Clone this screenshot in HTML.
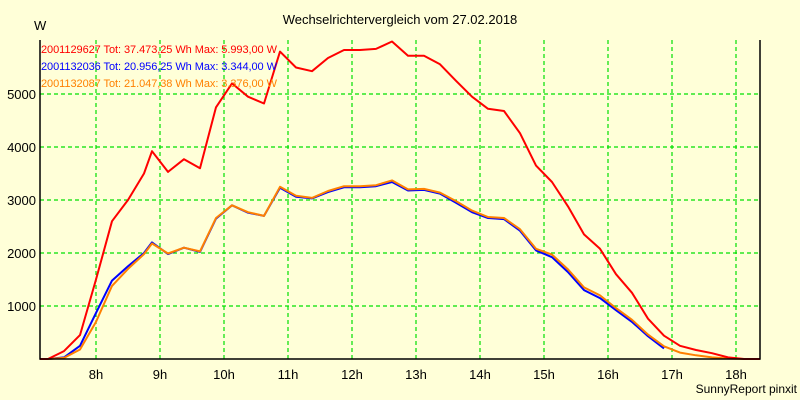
<!DOCTYPE html>
<html><head><meta charset="utf-8"><style>
body{margin:0;background:#FFFFD8;}
svg{display:block;font-family:"Liberation Sans",sans-serif;}
</style></head><body>
<svg id="chart" width="800" height="400" viewBox="0 0 800 400">
<rect x="0" y="0" width="800" height="400" fill="#FFFFD8"/>
<text x="400" y="24" text-anchor="middle" font-size="13" fill="#000">Wechselrichtervergleich vom 27.02.2018</text>
<text x="34" y="30" font-size="13" fill="#000">W</text>
<text x="797" y="393" text-anchor="end" font-size="12" fill="#000">SunnyReport pinxit</text>
<g id="grid"></g><g id="series"></g><g id="axes"></g>
<g font-size="11">
<text x="41" y="53" fill="#ff0000" textLength="236">2001129627 Tot: 37.473,25 Wh Max: 5.993,00 W</text>
<text x="41" y="70" fill="#0000ff" textLength="236">2001132036 Tot: 20.956,25 Wh Max: 3.344,00 W</text>
<text x="41" y="87" fill="#ff8000" textLength="236">2001132087 Tot: 21.047,38 Wh Max: 3.376,00 W</text>
</g>
</svg>
<script>
const times = [7.125,7.25,7.5,7.75,8.0,8.25,8.5,8.75,8.875,9.125,9.375,9.625,9.875,10.125,10.375,10.625,10.875,11.125,11.375,11.625,11.875,12.125,12.375,12.625,12.875,13.125,13.375,13.625,13.875,14.125,14.375,14.625,14.875,15.125,15.375,15.625,15.875,16.125,16.375,16.625,16.875,17.125,17.375,17.625,17.875,18.125,18.375];
const redVals = [0,0,150,450,1500,2600,3000,3500,3920,3530,3770,3600,4750,5200,4950,4820,5800,5500,5430,5680,5830,5830,5850,5990,5720,5720,5560,5250,4950,4720,4680,4260,3650,3340,2880,2350,2080,1600,1250,760,440,250,170,110,30,0,0];
const blueVals = [0,0,30,250,870,1480,1750,2000,2200,1980,2100,2020,2650,2900,2760,2700,3230,3060,3030,3150,3240,3240,3260,3340,3180,3190,3120,2950,2770,2660,2640,2420,2050,1920,1640,1300,1150,920,700,430,200,null,null,null,null,null,null];
const orangeVals = [0,0,20,180,700,1380,1700,1980,2180,1990,2100,2030,2660,2900,2770,2700,3250,3080,3040,3170,3260,3260,3280,3370,3200,3210,3140,2980,2800,2680,2660,2450,2080,1970,1690,1350,1200,960,740,460,240,120,70,30,10,0,0];
const yTicks = [1000,2000,3000,4000,5000];
const xTicks = [8,9,10,11,12,13,14,15,16,17,18];
const NS="http://www.w3.org/2000/svg";
const L=40,R=760,T=40,B=359;
const xs=h=>96+(h-8)*64;
const ys=v=>B-v*0.053;
const grid=document.getElementById('grid'),axes=document.getElementById('axes'),ser=document.getElementById('series');
function mk(tag,attrs,parent){const e=document.createElementNS(NS,tag);for(const k in attrs)e.setAttribute(k,attrs[k]);parent.appendChild(e);return e;}
yTicks.forEach(v=>{
  const l=mk('line',{x1:L,x2:R,y1:ys(v),y2:ys(v),stroke:'#00e000','stroke-dasharray':'4,3','stroke-width':1.2},grid);
  
  
  const t=mk('text',{x:36,y:ys(v)+5,'text-anchor':'end','font-size':13,fill:'#000'},axes);
  t.textContent=v;
  
  
});
xTicks.forEach(h=>{
  const l=mk('line',{x1:xs(h),x2:xs(h),y1:T,y2:B,stroke:'#00e000','stroke-dasharray':'4,3','stroke-width':1.2},grid);
  
  
  const t=mk('text',{x:xs(h),y:B+20,'text-anchor':'middle','font-size':13,fill:'#000'},axes);
  t.textContent=h+'h';
  
  
});
const ax=mk('path',{d:`M${L},${T}V${B}H${R}V${T}`,fill:'none',stroke:'#000','stroke-width':1.5},axes);


function line(vals,color,name){
  let d='';vals.forEach((v,i)=>{if(v===null)return;d+=(d?'L':'M')+xs(times[i]).toFixed(1)+','+ys(v).toFixed(1);});
  const p=mk('path',{d:d,fill:'none',stroke:color,'stroke-width':2,'stroke-linejoin':'round'},ser);
  
  
}
line(blueVals,'#0000ff','series-2001132036');
line(orangeVals,'#ff8000','series-2001132087');
line(redVals,'#ff0000','series-2001129627');
</script>
</body></html>
